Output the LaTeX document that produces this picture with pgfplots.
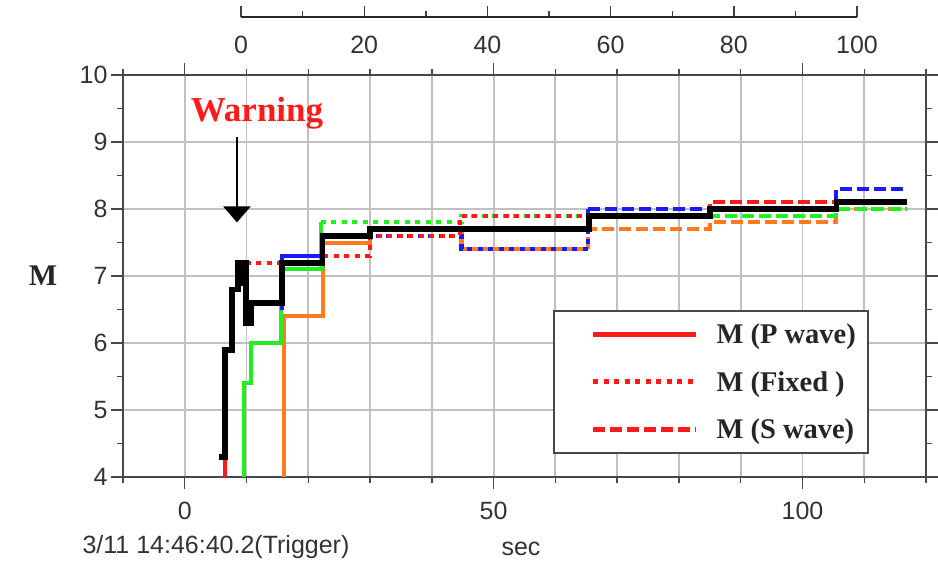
\documentclass[border=0pt]{standalone}
\usepackage{fontspec}
\setmainfont{Liberation Sans}
\newfontfamily\timesfont{Liberation Serif}
\usepackage{pgfplots}
\pgfplotsset{compat=1.18}
\usetikzlibrary{arrows.meta}

\definecolor{gridgray}{HTML}{C0C0C0}
\definecolor{axisgray}{HTML}{484848}
\definecolor{txtgray}{HTML}{333333}
\definecolor{mred}{HTML}{FF1A1A}
\definecolor{mgreen}{HTML}{22EE22}
\definecolor{morange}{HTML}{FF7A1F}
\definecolor{mblue}{HTML}{1A1AFF}

\newcommand{\ticksize}{\fontsize{25bp}{30bp}\selectfont}
\newcommand{\boldserif}[1]{\timesfont\bfseries\fontsize{#1}{#1}\selectfont}

\pgfplotsset{
  fixedstyle/.style={line width=4bp, dash pattern=on 5bp off 5.5bp},
  swavestyle/.style={line width=4bp, dash pattern=on 12bp off 5bp},
  pwavestyle/.style={line width=4bp},
}

\begin{document}
\begin{tikzpicture}
\path[use as bounding box] (0bp,0bp) rectangle (938bp,-564bp);

% time since the warning, on a separate scale above the plot
\begin{axis}[
  at={(241bp,-17bp)}, anchor=south west,
  scale only axis, width=616bp, height=20bp,
  xmin=0, xmax=100, ymin=0, ymax=1,
  axis x line=bottom, axis y line=none,
  axis line style={-, black!85, line width=2.8bp},
  xtick={0,20,...,100}, minor xtick={10,30,...,90},
  xtick align=inside,
  major tick length=11bp, minor tick length=6bp,
  every tick/.style={black!75, line width=1.4bp},
  ytick=\empty,
  /pgf/number format/assume math mode=true,
  xticklabel style={font=\ticksize, text=txtgray, yshift=-16bp},
]
\end{axis}

\begin{axis}[
  at={(123bp,-477bp)}, anchor=south west,
  scale only axis, width=803bp, height=402bp,
  xmin=-10, xmax=120, ymin=4, ymax=10,
  xtick={0,50,100},
  minor xtick={-10,10,20,30,40,60,70,80,90,110,120},
  ytick={4,5,...,10},
  minor ytick={4.5,5.5,...,9.5},
  xmajorgrids, xminorgrids, ymajorgrids,
  grid style={gridgray, line width=1.8bp},
  minor grid style={gridgray, line width=1.8bp},
  axis line style={axisgray, line width=2.2bp},
  tick align=outside,
  major tick length=12bp, minor tick length=6bp,
  every tick/.style={axisgray, line width=1.4bp},
  tick label style={font=\ticksize, text=txtgray},
  xticklabel style={yshift=-10bp},
  /pgf/number format/assume math mode=true,
  legend style={at={(0.5355,0.4154)}, anchor=north west,
    draw=axisgray, line width=2bp,
    font=\boldserif{28.5bp}, text=black!85,
    inner xsep=12bp, inner ysep=13bp,
    nodes={inner sep=0bp},
    column sep=18bp, row sep=26bp},
  legend cell align=left,
  legend image code/.code={\path (0bp,0bp); \draw[#1, line width=5bp] (25bp,0bp) -- (128bp,0bp);},
]
\addlegendimage{mred, pwavestyle}
\addlegendentry{M (P wave)}
\addlegendimage{mred, fixedstyle}
\addlegendentry{M (Fixed )}
\addlegendimage{mred, swavestyle}
\addlegendentry{M (S wave)}

% orange
\addplot[morange, pwavestyle, const plot, forget plot] coordinates
  {(16.1,4.0)(16.1,6.4)(22.3,7.5)(30,7.7)(44.8,7.4)(65.3,7.4)};
\addplot[morange, swavestyle, const plot, forget plot] coordinates
  {(65.3,7.4)(65.3,7.7)(85,7.8)(105.5,8.0)(117,8.0)};

% green
\addplot[mgreen, pwavestyle, const plot, forget plot] coordinates
  {(9.6,4.0)(9.6,5.4)(10.7,6.0)(15.6,7.1)(22.0,7.8)};
\addplot[mgreen, fixedstyle, const plot, forget plot] coordinates
  {(22.0,7.8)(44.8,7.9)(65.5,7.9)};
\addplot[mgreen, swavestyle, const plot, forget plot] coordinates
  {(65.5,7.9)(105.5,8.0)(117,8.0)};

% blue
\addplot[mblue, pwavestyle, const plot, forget plot] coordinates
  {(15.8,6.5)(15.8,7.3)(22.3,7.6)(30,7.6)};
\addplot[mblue, fixedstyle, dash phase=5bp, const plot, forget plot] coordinates
  {(30,7.6)(44.8,7.4)(65.3,8.0)};
\addplot[mblue, swavestyle, const plot, forget plot] coordinates
  {(65.3,8.0)(105.5,8.3)(117,8.3)};

% red
\addplot[mred, pwavestyle, const plot, forget plot] coordinates
  {(6.5,4.0)(6.5,4.35)};
\addplot[mred, fixedstyle, const plot, forget plot] coordinates
  {(9.9,7.2)(22.3,7.3)(30,7.6)(44.6,7.9)(65.5,7.9)};
\addplot[mred, swavestyle, const plot, forget plot] coordinates
  {(85,7.9)(85,8.1)(117,8.1)};

% combined magnitude
\addplot[black, line width=5.8bp, const plot, forget plot] coordinates
  {(5.5,4.3)(6.5,5.9)(7.6,6.8)(8.6,7.2)(9.1,6.9)(9.5,7.2)(9.9,6.3)(10.7,6.6)
   (15.8,7.2)(22.3,7.6)(30,7.7)(65.5,7.9)(85,8.0)(105.5,8.1)(117,8.1)};

\node[text=mred, font=\boldserif{35bp}] at (axis cs:11.7,9.43) {Warning};
\draw[black, line width=2.5bp, -{Triangle[width=27bp,length=16bp]}]
  (axis cs:8.45,9.07) -- (axis cs:8.45,7.8);
\end{axis}

\node[font=\boldserif{30bp}, text=black!85] at (43bp,-276bp) {M};
\node[font=\ticksize, text=txtgray] at (216bp,-547bp) {3/11 14:46:40.2(Trigger)};
\node[font=\ticksize, text=txtgray] at (521bp,-549bp) {sec};
\end{tikzpicture}
\end{document}
